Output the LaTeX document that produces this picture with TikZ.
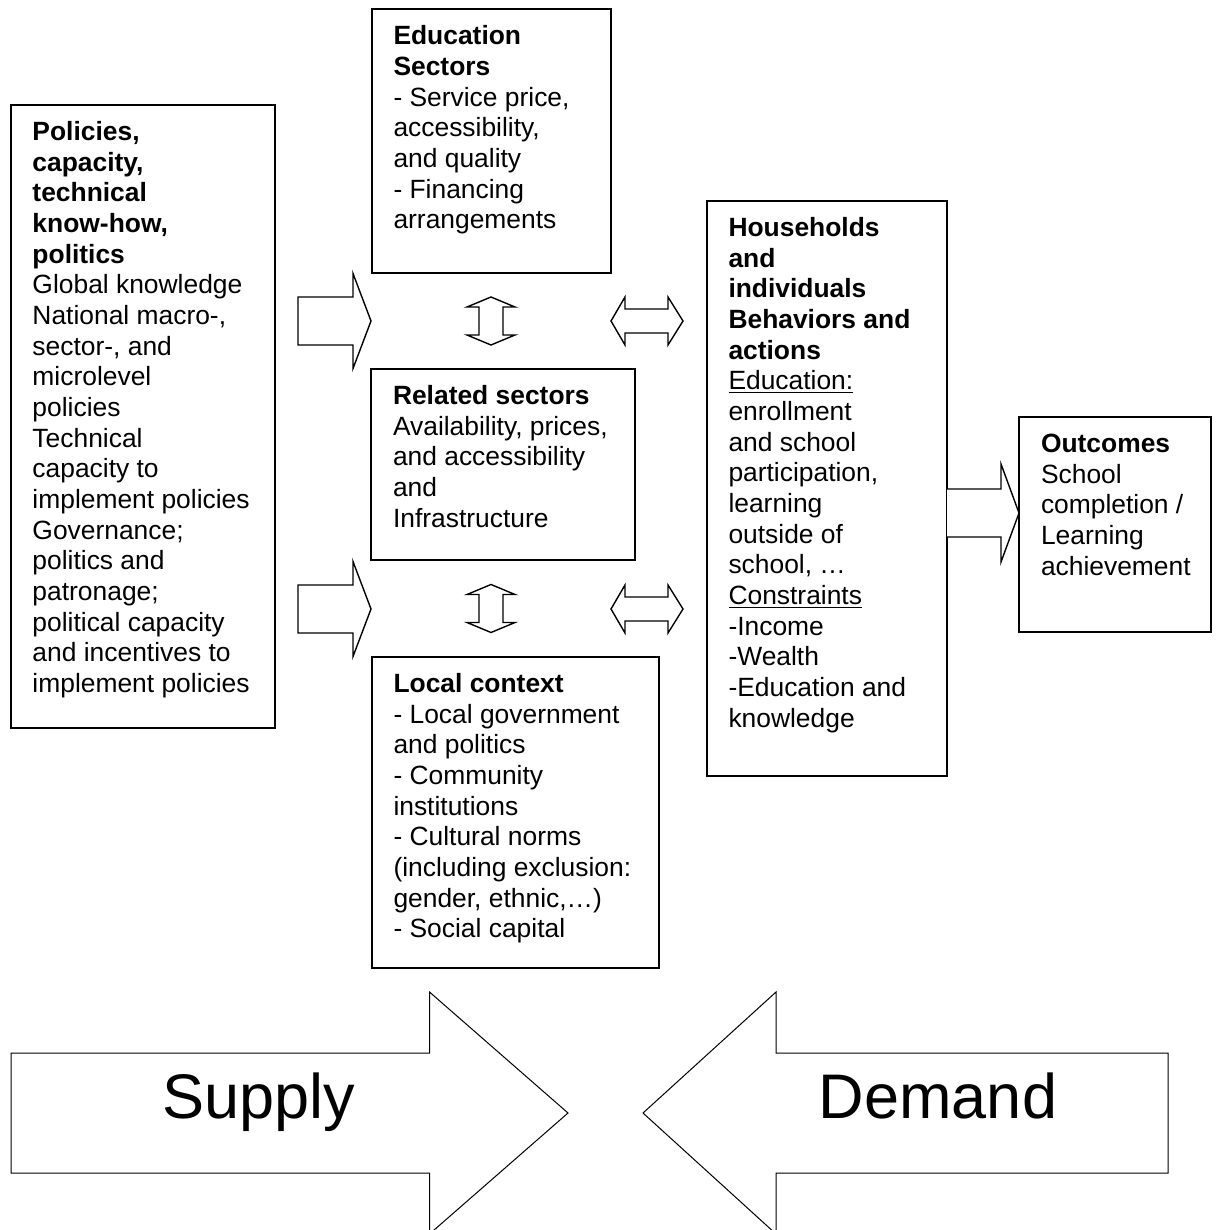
\documentclass[tikz,border=0pt]{standalone}
\usepackage{fontspec}
\setmainfont{Liberation Sans}
\newcommand{\boxfont}{\fontsize{13.2pt}{15.33pt}\selectfont}
\newcommand{\panelbody}[3]{\parbox[t][#2][t]{#1}{\begin{tabular}[t]{@{}l@{}}#3\end{tabular}}}

\begin{document}
\begin{tikzpicture}[x=0.5pt, y=-0.5pt,
    panel/.style={draw, line width=1pt, anchor=north west, outer sep=0pt,
      inner xsep=11pt, inner ysep=7pt, font=\boxfont},
    blockarrow/.style={draw, line width=0.7pt, fill=white},
    bigarrow/.style={draw, line width=0.5pt, fill=white},
    bigword/.style={font=\fontsize{31.5pt}{38pt}\selectfont, anchor=base}]

  \useasboundingbox[fill=white] (0,0) rectangle (1215,1230);

  % Policies
  \node[panel] (policies) at (10.5,105) {\panelbody{110.25pt}{297.5pt}{%
    \textbf{Policies,}\\ \textbf{capacity,}\\ \textbf{technical}\\
    \textbf{know-how,}\\ \textbf{politics}\\ Global knowledge\\
    National macro-,\\ sector-, and\\ microlevel\\ policies\\ Technical\\
    capacity to\\ implement policies\\ Governance;\\ politics and\\
    patronage;\\ political capacity\\ and incentives to\\ implement policies}};

  % Education sectors
  \node[panel] (edusec) at (371.5,9.5) {\panelbody{97.75pt}{117.5pt}{%
    \textbf{Education}\\ \textbf{Sectors}\\ - Service price,\\ accessibility,\\
    and quality\\ - Financing\\ arrangements}};

  % Related sectors
  \node[panel] (related) at (371,369) {\panelbody{110pt}{81.5pt}{%
    \textbf{Related sectors}\\ Availability, prices,\\ and accessibility\\
    and\\ Infrastructure}};

  % Local context
  \node[panel] (local) at (371.5,657) {\panelbody{121.5pt}{141.5pt}{%
    \textbf{Local context}\\ - Local government\\ and politics\\ - Community\\
    institutions\\ - Cultural norms\\ (including exclusion:\\
    gender, ethnic,…)\\ - Social capital}};

  % Households
  \node[panel] (house) at (706.5,201) {\panelbody{98.25pt}{273.5pt}{%
    \textbf{Households}\\ \textbf{and}\\ \textbf{individuals}\\
    \textbf{Behaviors and}\\ \textbf{actions}\\ \underline{Education:}\\
    enrollment\\ and school\\ participation,\\ learning\\ outside of\\
    school, …\\ \underline{Constraints}\\ -Income\\ -Wealth\\
    -Education and\\ knowledge}};

  % Outcomes
  \node[panel] (outcomes) at (1019,417) {\panelbody{74pt}{93.5pt}{%
    \textbf{Outcomes}\\ School\\ completion /\\ Learning\\ achievement}};

  % Supply arrows into the middle column
  \draw[blockarrow] (298,297) -- (353,297) -- (353,273.5) -- (371,321)
    -- (353,368.5) -- (353,345) -- (298,345) -- cycle;
  \draw[blockarrow] (298,585) -- (353,585) -- (353,561.5) -- (371,609)
    -- (353,656.5) -- (353,633) -- (298,633) -- cycle;

  % Up-down arrows between sectors
  \draw[blockarrow] (491,297) -- (515,307) -- (503,307) -- (503,335) -- (515,335)
    -- (491,345) -- (467,335) -- (479,335) -- (479,307) -- (467,307) -- cycle;
  \draw[blockarrow] (491,584.5) -- (515,594.5) -- (503,594.5) -- (503,622.5) -- (515,622.5)
    -- (491,632.5) -- (467,622.5) -- (479,622.5) -- (479,594.5) -- (467,594.5) -- cycle;

  % Left-right arrows to households
  \draw[blockarrow] (611,321) -- (625,297) -- (625,309) -- (668,309) -- (668,297)
    -- (683,321) -- (668,345) -- (668,333) -- (625,333) -- (625,345) -- cycle;
  \draw[blockarrow] (611,609) -- (625,585) -- (625,597) -- (668,597) -- (668,585)
    -- (683,609) -- (668,633) -- (668,621) -- (625,621) -- (625,633) -- cycle;

  % Households to outcomes
  \draw[blockarrow] (947,489) -- (1001,489) -- (1001,464) -- (1019,513)
    -- (1001,562) -- (1001,537) -- (947,537);

  % Supply
  \draw[bigarrow] (11,1053) -- (429.5,1053) -- (429.5,992) -- (568,1113)
    -- (429.5,1234) -- (429.5,1173) -- (11,1173) -- cycle;
  \node[bigword] (supply) at (259,1118) {Supply};

  % Demand
  \draw[bigarrow] (1168,1053) -- (776,1053) -- (776,992) -- (643,1113)
    -- (776,1234) -- (776,1173) -- (1168,1173) -- cycle;
  \node[bigword] (demand) at (938,1118) {Demand};
\end{tikzpicture}
\end{document}
